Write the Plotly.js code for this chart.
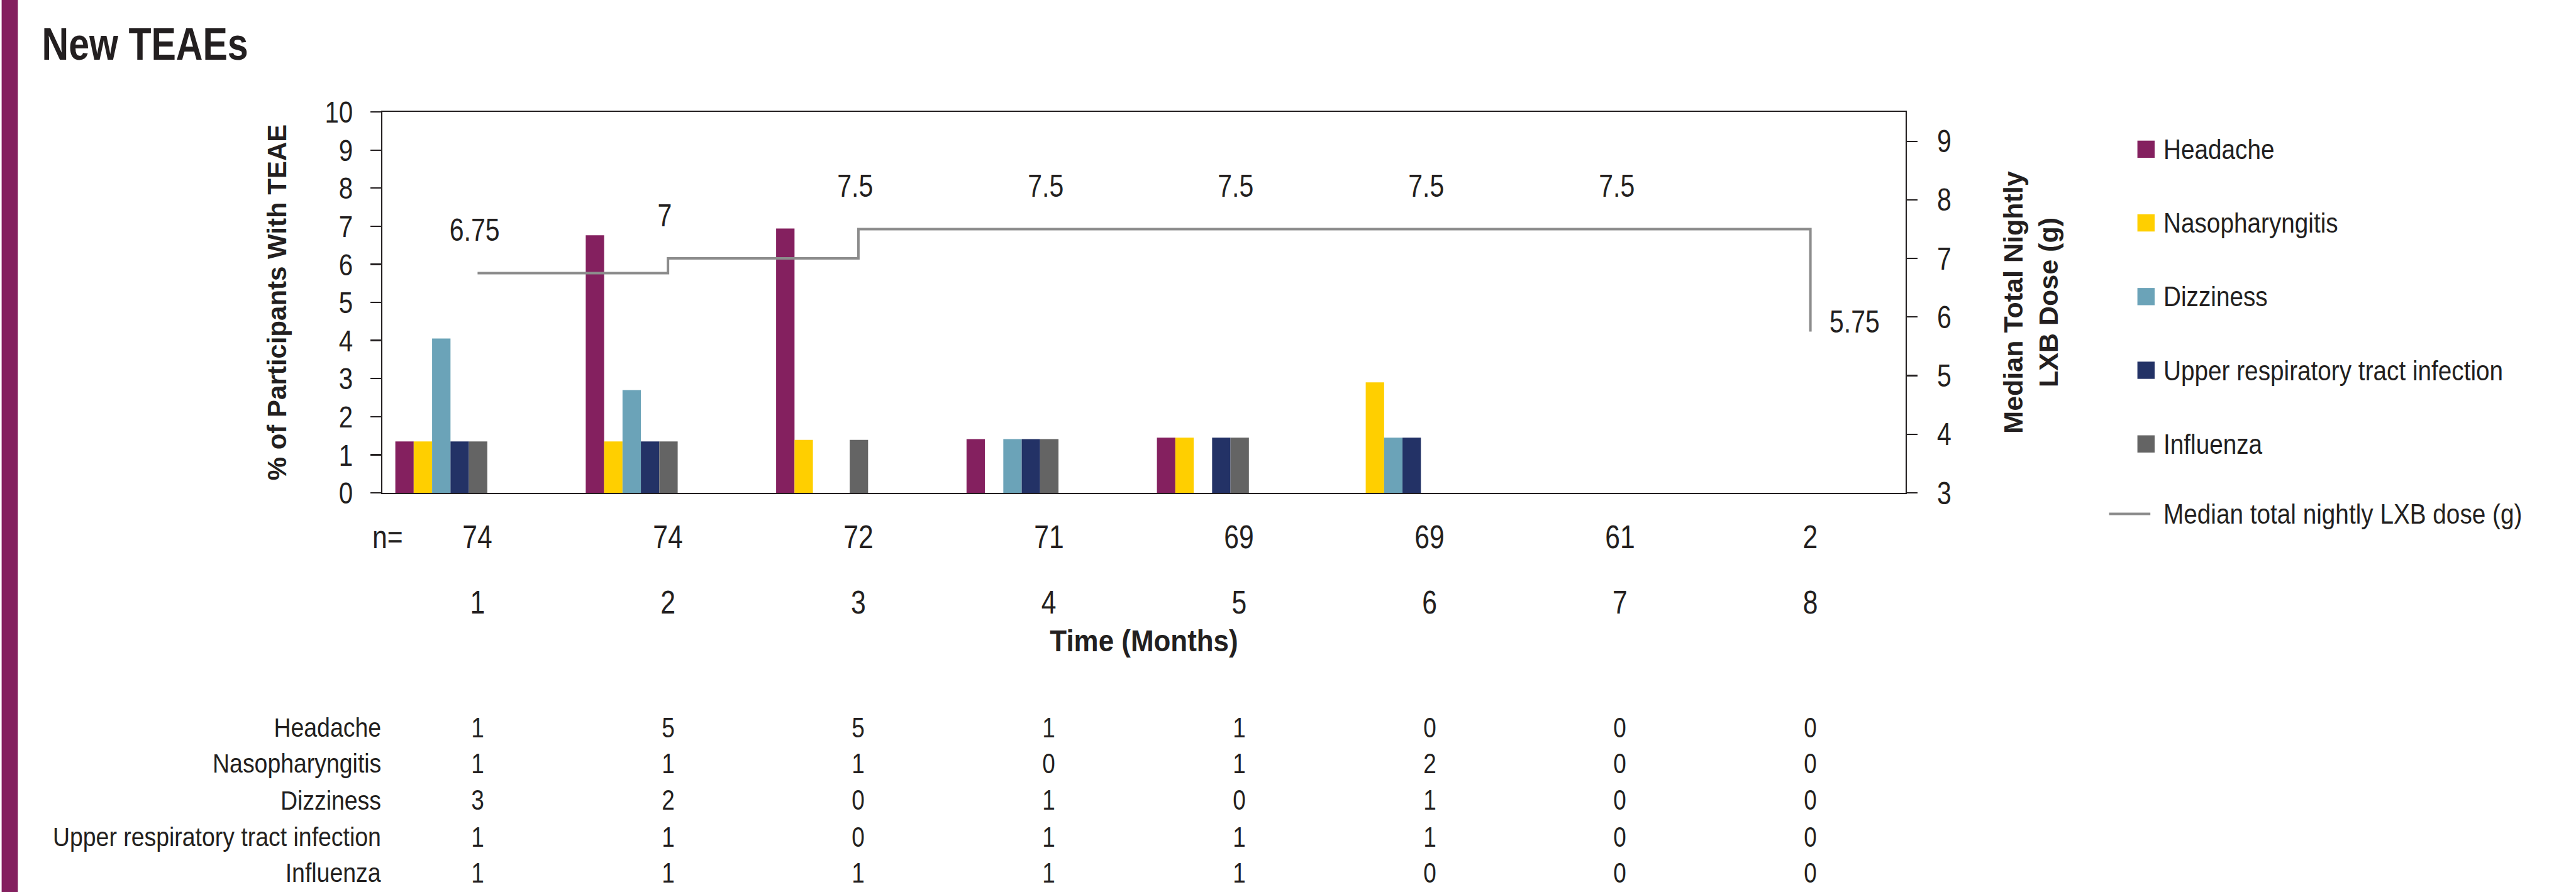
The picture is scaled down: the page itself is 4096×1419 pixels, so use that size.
<!DOCTYPE html>
<html>
<head>
<meta charset="utf-8">
<script src="https://cdn.plot.ly/plotly-3.0.1.min.js"></script>
<style>
  html, body { margin: 0; padding: 0; background: #ffffff; }
  #chart { width: 4096px; height: 1419px; }
</style>
</head>
<body>
<div id="chart"></div>
<script>
// ---------------- DATA ----------------
const monthNum = [1, 2, 3, 4, 5, 6, 7, 8];
const monthLabels = ['1', '2', '3', '4', '5', '6', '7', '8'];
const nAtRisk = [74, 74, 72, 71, 69, 69, 61, 2];

const seriesNames = ['Headache', 'Nasopharyngitis', 'Dizziness', 'Upper respiratory tract infection', 'Influenza'];
const headachePct = [1.35, 6.76, 6.94, 1.41, 1.45, 0, 0, 0];
const nasopharyngitisPct = [1.35, 1.35, 1.39, 0, 1.45, 2.90, 0, 0];
const dizzinessPct = [4.05, 2.70, 0, 1.41, 0, 1.45, 0, 0];
const urtiPct = [1.35, 1.35, 0, 1.41, 1.45, 1.45, 0, 0];
const influenzaPct = [1.35, 1.35, 1.39, 1.41, 1.45, 0, 0, 0];

const headacheCount = [1, 5, 5, 1, 1, 0, 0, 0];
const nasopharyngitisCount = [1, 1, 1, 0, 1, 2, 0, 0];
const dizzinessCount = [3, 2, 0, 1, 0, 1, 0, 0];
const urtiCount = [1, 1, 0, 1, 1, 1, 0, 0];
const influenzaCount = [1, 1, 1, 1, 1, 0, 0, 0];

const doseName = 'Median total nightly LXB dose (g)';
const medianDose = [6.75, 7, 7.5, 7.5, 7.5, 7.5, 7.5, 5.75];
const doseLabels = ['6.75', '7', '7.5', '7.5', '7.5', '7.5', '7.5', '5.75'];

// ---------------- STYLE ----------------
const W = 4096, H = 1419;
const M = { l: 608, r: 1066, t: 178, b: 635 };
const PW = W - M.l - M.r, PH = H - M.t - M.b;
const INK = '#231f20';
// condensed look is made by a horizontal squeeze after drawing; the family string picks the squeeze
const NARROW = "'Liberation Sans', Arial, sans-serif";              // squeeze 0.82
const ROWFONT = "'Liberation Sans', Arial, Helvetica, sans-serif";  // squeeze 0.87
const LEGFONT = "'Liberation Sans', Helvetica, sans-serif";         // squeeze 0.88
const WIDE = "'Liberation Sans', Arial, sans-serif";
const colors = ['#84205f', '#ffcf00', '#6ba3b8', '#233266', '#646464'];
const pctSeries = [headachePct, nasopharyngitisPct, dizzinessPct, urtiPct, influenzaPct];
const countSeries = [headacheCount, nasopharyngitisCount, dizzinessCount, urtiCount, influenzaCount];

const barW = 0.0966;
const barStart = -0.432;

function pX(px) { return (px - M.l) / PW; }
function pY(py) { return 1 - (py - M.t) / PH; }

const traces = [];
pctSeries.forEach((vals, k) => {
  traces.push({
    type: 'bar', name: seriesNames[k], x: monthNum, y: vals,
    width: barW, offset: barStart + k * barW,
    marker: { color: colors[k], line: { width: 0 } },
    xaxis: 'x', yaxis: 'y', showlegend: false, hoverinfo: 'skip'
  });
});
traces.push({
  type: 'scatter', mode: 'lines', name: doseName, x: monthNum, y: medianDose,
  line: { shape: 'hv', color: '#8c8c8c', width: 4 },
  xaxis: 'x', yaxis: 'y2', showlegend: false, hoverinfo: 'skip'
});

const annotations = [];
// dose labels
medianDose.forEach((v, i) => {
  const last = i === medianDose.length - 1;
  annotations.push({
    xref: 'x', yref: 'y2', x: monthNum[i], y: v, text: doseLabels[i], showarrow: false,
    xanchor: last ? 'left' : 'center', align: last ? 'left' : 'center', yanchor: 'middle',
    xshift: last ? 28 : -5, yshift: last ? 16 : 68,
    font: { family: NARROW, size: 50, color: INK }
  });
});
// n= row
annotations.push({
  xref: 'x', yref: 'paper', x: 0.5, y: 0, text: 'n=', showarrow: false,
  xanchor: 'left', align: 'left', yanchor: 'middle', xshift: -18, yshift: -70,
  font: { family: NARROW, size: 52, color: INK }
});
nAtRisk.forEach((n, i) => {
  annotations.push({
    xref: 'x', yref: 'paper', x: monthNum[i], y: 0, text: String(n), showarrow: false,
    xanchor: 'center', yanchor: 'middle', yshift: -70,
    font: { family: NARROW, size: 52, color: INK }
  });
});
// table rows
const rowShift = [373, 430, 488.5, 547, 604];
seriesNames.forEach((name, k) => {
  annotations.push({
    xref: 'x', yref: 'paper', x: 0.5, y: 0, text: name, showarrow: false,
    xanchor: 'right', align: 'right', yanchor: 'middle', xshift: 0, yshift: -rowShift[k],
    font: { family: ROWFONT, size: 43, color: INK }
  });
  countSeries[k].forEach((c, i) => {
    annotations.push({
      xref: 'x', yref: 'paper', x: monthNum[i], y: 0, text: String(c), showarrow: false,
      xanchor: 'center', yanchor: 'middle', yshift: -rowShift[k],
      font: { family: NARROW, size: 45, color: INK }
    });
  });
});

// legend (drawn as swatches + text)
const shapes = [];
const legSwX0 = 3398.6, legSwX1 = 3426, legTextX = 3438;
const legY = [237.4, 354.6, 471.8, 589.0, 706.2];
seriesNames.forEach((name, k) => {
  shapes.push({
    type: 'rect', xref: 'paper', yref: 'paper', layer: 'above',
    x0: pX(legSwX0), x1: pX(legSwX1), y0: pY(legY[k] - 13.7), y1: pY(legY[k] + 13.7),
    fillcolor: colors[k], line: { width: 0 }
  });
  annotations.push({
    xref: 'paper', yref: 'paper', x: pX(legTextX), y: pY(legY[k]), text: name, showarrow: false,
    xanchor: 'left', align: 'left', yanchor: 'middle', font: { family: LEGFONT, size: 44, color: INK }
  });
});
const legLineY = 817.5;
shapes.push({
  type: 'line', xref: 'paper', yref: 'paper', layer: 'above',
  x0: pX(3353.6), x1: pX(3419.2), y0: pY(legLineY), y1: pY(legLineY),
  line: { color: '#8c8c8c', width: 4 }
});
annotations.push({
  xref: 'paper', yref: 'paper', x: pX(legTextX), y: pY(legLineY), text: doseName, showarrow: false,
  xanchor: 'left', align: 'left', yanchor: 'middle', font: { family: LEGFONT, size: 44, color: INK }
});
// purple side bar
shapes.push({
  type: 'rect', xref: 'paper', yref: 'paper', layer: 'above',
  x0: pX(2.6), x1: pX(28.4), y0: pY(H), y1: pY(0),
  fillcolor: '#84205f', line: { width: 0 }
});

const layout = {
  width: W, height: H, margin: M,
  paper_bgcolor: '#ffffff', plot_bgcolor: '#ffffff',
  showlegend: false, barmode: 'overlay',
  font: { family: NARROW, color: INK },
  title: {
    text: 'New TEAEs', xref: 'container', yref: 'container',
    x: 66.6 / W, xanchor: 'left', y: 1 - 70 / H, yanchor: 'middle',
    font: { family: NARROW, size: 72, weight: 700, color: INK }
  },
  xaxis: {
    range: [0.5, 8.5], tickmode: 'array', tickvals: monthNum, ticktext: monthLabels,
    ticks: '', showline: true, mirror: true, linecolor: INK, linewidth: 2.4,
    showgrid: false, zeroline: false, ticklabelstandoff: 127,
    tickfont: { family: NARROW, size: 52, color: INK },
    title: { text: 'Time (Months)', standoff: 17, font: { family: NARROW, size: 48, weight: 700, color: INK } },
    fixedrange: true
  },
  yaxis: {
    range: [0, 10], tickmode: 'linear', tick0: 0, dtick: 1,
    ticks: 'outside', ticklen: 16.7, tickwidth: 2.2, tickcolor: INK,
    showline: true, linecolor: INK, linewidth: 2.4, showgrid: false, zeroline: false,
    ticklabelstandoff: 18,
    tickfont: { family: NARROW, size: 49, color: INK },
    title: { text: '% of Participants With TEAE', standoff: 38, font: { family: WIDE, size: 42, weight: 700, color: INK } },
    fixedrange: true
  },
  yaxis2: {
    overlaying: 'y', side: 'right', range: [3, 9.5], tickmode: 'linear', tick0: 3, dtick: 1,
    ticks: 'outside', ticklen: 16.7, tickwidth: 2.2, tickcolor: INK,
    showline: true, linecolor: INK, linewidth: 2.4, showgrid: false, zeroline: false,
    ticklabelstandoff: 21,
    tickfont: { family: NARROW, size: 50, color: INK },
    title: { text: 'Median Total Nightly<br>LXB Dose (g)', standoff: 79, font: { family: WIDE, size: 43, weight: 700, color: INK } },
    fixedrange: true
  },
  shapes: shapes,
  annotations: annotations
};

Plotly.newPlot('chart', traces, layout, { staticPlot: true, displayModeBar: false }).then(gd => {
  gd.querySelectorAll('svg text').forEach(t => {
    if (t.classList.contains('ytitle') || t.classList.contains('y2title')) return;
    const fam = t.style.fontFamily || '';
    let f = 0.82;
    if (t.classList.contains('xtitle')) f = 0.915;
    else if (fam.includes('Helvetica') && fam.includes('Arial')) f = 0.87;
    else if (fam.includes('Helvetica')) f = 0.88;
    const len = t.getComputedTextLength();
    if (len > 0) {
      t.setAttribute('textLength', (len * f).toFixed(2));
      t.setAttribute('lengthAdjust', 'spacingAndGlyphs');
    }
  });
});
</script>
</body>
</html>
